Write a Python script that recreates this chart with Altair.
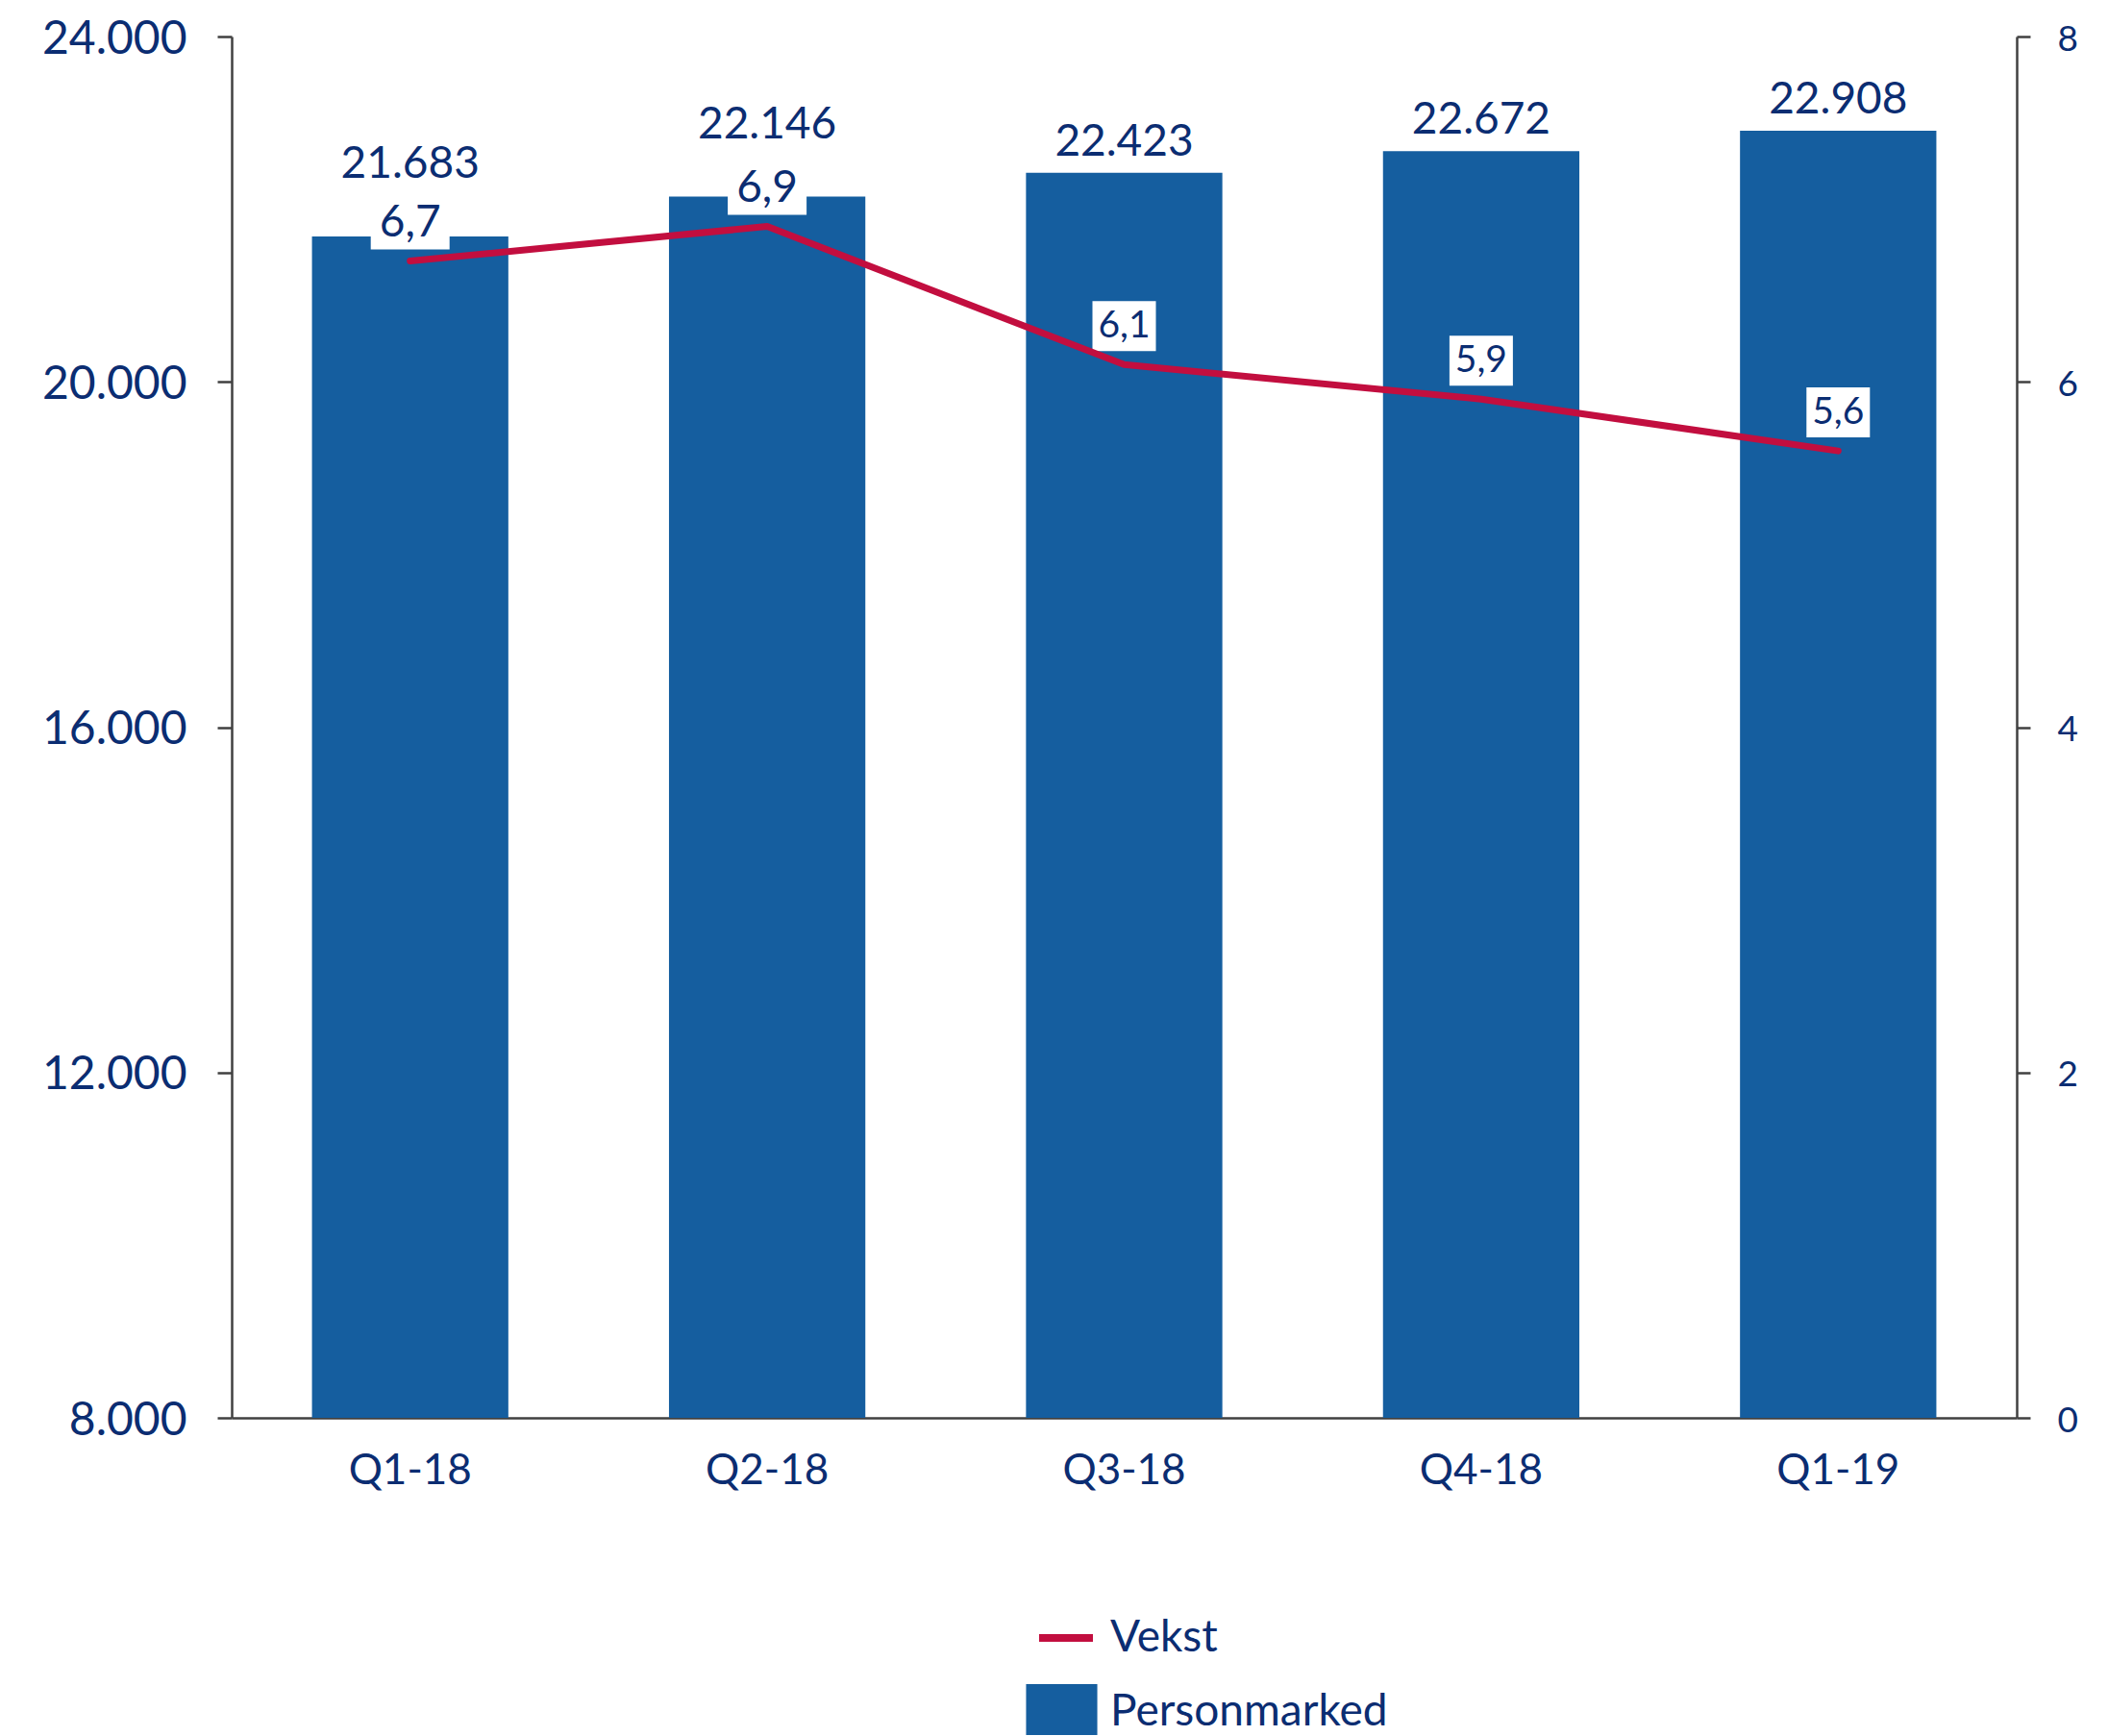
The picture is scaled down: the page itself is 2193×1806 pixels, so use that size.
import altair as alt
import pandas as pd

Kvartal = ["Q1-18", "Q2-18", "Q3-18", "Q4-18", "Q1-19"]
Personmarked = [21683, 22146, 22423, 22672, 22908]
Vekst = [6.7, 6.9, 6.1, 5.9, 5.6]
lifted = ["Q1-18", "Q2-18"]  # labels Excel moved up to avoid overlap

NAVY = "#0B2D72"
BLUE = "#155E9F"
RED = "#C20E3F"
AXIS = "#404040"
FONT = "Lato"

df = pd.DataFrame({"Kvartal": Kvartal, "Personmarked": Personmarked, "Vekst": Vekst})

base = alt.Chart(df).transform_calculate(
    blbl="replace(format(datum.Personmarked, ','), ',', '.')",
    vlbl="replace(format(datum.Vekst, '.1f'), '.', ',')",
    s1="'Personmarked'",
    s2="'Vekst'",
    lifted="indexof(" + str(lifted).replace("'", '"') + ", datum.Kvartal) >= 0",
)

x_enc = alt.X(
    "Kvartal:N",
    sort=Kvartal,
    scale=alt.Scale(paddingInner=0.45, paddingOuter=0.225),
    axis=alt.Axis(title=None, ticks=False, labelAngle=0, labelFontSize=44, labelFont=FONT,
                  labelColor=NAVY, labelPadding=33, domainColor=AXIS, domainWidth=2.5),
)

yl_scale = alt.Scale(domain=[8000, 24000], zero=False, nice=False)
yr_scale = alt.Scale(domain=[0, 8], nice=False)

yl_axis = alt.Axis(title=None, orient="left", values=[8000, 12000, 16000, 20000, 24000],
                   labelExpr="replace(format(datum.value, ','), ',', '.')",
                   labelFontSize=48, labelFont=FONT, labelColor=NAVY, labelPadding=32,
                   labelOffset=3, tickSize=15, tickWidth=2.5, tickColor=AXIS,
                   domainColor=AXIS, domainWidth=2.5, grid=False)

yr_axis = alt.Axis(title=None, orient="right", values=[0, 2, 4, 6, 8], labelFontSize=37,
                   labelFont=FONT, labelColor=NAVY, labelPadding=28, labelOffset=3,
                   tickSize=14, tickWidth=2.5, tickColor=AXIS, domainColor=AXIS,
                   domainWidth=2.5, grid=False)

bars = base.mark_bar().encode(
    x=x_enc,
    y=alt.Y("Personmarked:Q", scale=yl_scale, axis=yl_axis),
    y2=alt.Y2(datum=8000),
    fill=alt.Fill("s1:N", scale=alt.Scale(domain=["Personmarked"], range=[BLUE]),
                  legend=alt.Legend(title=None, orient="none", legendX=835, legendY=1714,
                                    symbolType="M-1.3,-1H1.3V1H-1.3Z", symbolSize=3249,
                                    symbolStrokeWidth=0, labelFontSize=46, labelFont=FONT,
                                    labelColor=NAVY, labelOffset=22, labelLimit=0)),
)

bar_txt_lo = base.transform_filter("!datum.lifted").mark_text(
    dy=-18, baseline="alphabetic", fontSize=46, font=FONT, color=NAVY
).encode(x=x_enc, y=alt.Y("Personmarked:Q", scale=yl_scale, axis=yl_axis), text="blbl:N")

bar_txt_hi = base.transform_filter("datum.lifted").mark_text(
    dy=-61, baseline="alphabetic", fontSize=46, font=FONT, color=NAVY
).encode(x=x_enc, y=alt.Y("Personmarked:Q", scale=yl_scale, axis=yl_axis), text="blbl:N")

left = alt.layer(bars, bar_txt_lo, bar_txt_hi)

box_big = base.transform_filter("datum.lifted").mark_point(
    shape="M-1,-0.683H1V0.683H-1Z", size=6724, filled=True, fill="white", opacity=1,
    strokeWidth=0, yOffset=-40
).encode(x=x_enc, y=alt.Y("Vekst:Q", scale=yr_scale, axis=yr_axis))

box_small = base.transform_filter("!datum.lifted").mark_point(
    shape="M-1,-0.788H1V0.788H-1Z", size=4356, filled=True, fill="white", opacity=1,
    strokeWidth=0, yOffset=-40
).encode(x=x_enc, y=alt.Y("Vekst:Q", scale=yr_scale, axis=yr_axis))

line = base.mark_line(strokeWidth=7, strokeCap="round", strokeJoin="round").encode(
    x=x_enc,
    y=alt.Y("Vekst:Q", scale=yr_scale, axis=yr_axis),
    stroke=alt.Stroke("s2:N", scale=alt.Scale(domain=["Vekst"], range=[RED]),
                      legend=alt.Legend(title=None, orient="none", legendX=836, legendY=1634,
                                        symbolType="stroke", symbolSize=3136,
                                        symbolStrokeWidth=8, labelFontSize=46, labelFont=FONT,
                                        labelColor=NAVY, labelOffset=14, labelLimit=0)),
)

txt_big = base.transform_filter("datum.lifted").mark_text(
    dy=-40, baseline="middle", fontSize=46, font=FONT, color=NAVY
).encode(x=x_enc, y=alt.Y("Vekst:Q", scale=yr_scale, axis=yr_axis), text="vlbl:N")

txt_small = base.transform_filter("!datum.lifted").mark_text(
    dy=-40, baseline="middle", fontSize=39, font=FONT, color=NAVY
).encode(x=x_enc, y=alt.Y("Vekst:Q", scale=yr_scale, axis=yr_axis), text="vlbl:N")

right = alt.layer(box_big, box_small, line, txt_big, txt_small)

chart = alt.layer(left, right).resolve_scale(y="independent").properties(
    width=1857,
    height=1437,
    background="white",
    autosize=alt.AutoSizeParams(type="none"),
    padding={"left": 233, "top": 30, "right": 87, "bottom": 330},
).configure_view(stroke=None, strokeWidth=0)

chart.save("out.html", embed_options={"renderer": "svg", "actions": False})
